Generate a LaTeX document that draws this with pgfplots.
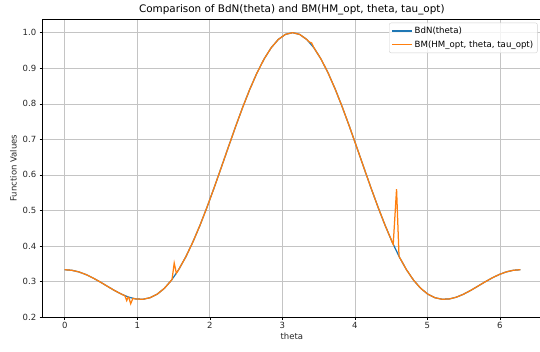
\documentclass[border=0pt]{standalone}
\usepackage{pgfplots}
\pgfplotsset{compat=1.18}
\usepackage{fontspec}
\setmainfont{DejaVu Sans}
\definecolor{mplblue}{HTML}{1F77B4}
\definecolor{mplorange}{HTML}{FF7F0E}
\definecolor{gridgray}{HTML}{C4C4C4}
\begin{document}
\begin{tikzpicture}
\begin{axis}[
 at={(0,0)}, anchor=south west,
 scale only axis, width=499pt, height=298.3pt,
 xmin=-0.309, xmax=6.572, ymin=0.1995, ymax=1.0385,
 xtick={0,1,2,3,4,5,6},
 ytick={0.2,0.3,0.4,0.5,0.6,0.7,0.8,0.9,1.0},
 yticklabel style={/pgf/number format/.cd, fixed, fixed zerofill, precision=1},
 /pgf/number format/assume math mode=true,
 grid=major, grid style={gridgray, line width=0.5pt},
 tick align=outside, tick pos=left, major tick length=2.6pt,
 tick style={black, line width=0.45pt},
 axis line style={line width=0.5pt},
 ticklabel style={font=\fontsize{8.5}{10}\selectfont, color=black!85},
 xticklabel style={yshift=1pt},
 xlabel={theta}, ylabel={Function Values},
 label style={font=\fontsize{8.5}{10}\selectfont, color=black!85},
 xlabel style={yshift=3pt},
 ylabel style={yshift=-1pt},
 title={Comparison of BdN(theta) and BM(HM\_opt, theta, tau\_opt)},
 title style={font=\fontsize{10.4}{12}\selectfont, yshift=-5pt},
 legend cell align=left,
 legend style={at={(1,1)}, anchor=north east, xshift=-3.7pt, yshift=-3.7pt,
   draw=black!18, rounded corners=2pt, fill=white, fill opacity=0.8, text opacity=1,
   font=\fontsize{8.6}{10}\selectfont, inner sep=2.2pt, row sep=1.5pt},
 legend image code/.code={\draw[#1, line width=1.3pt] (0pt,0pt) -- (20pt,0pt);},
]
\addplot[mplblue, line width=1.25pt] coordinates {
(0,0.333333)
(0.098175,0.331736)
(0.196350,0.327052)
(0.294524,0.319598)
(0.392699,0.309891)
(0.490874,0.298621)
(0.589049,0.286624)
(0.687223,0.274845)
(0.785398,0.264298)
(0.883573,0.256021)
(0.981748,0.251029)
(1.079922,0.250273)
(1.178097,0.254588)
(1.276272,0.264660)
(1.374447,0.280990)
(1.472622,0.303863)
(1.570796,0.333333)
(1.668971,0.369208)
(1.767146,0.411050)
(1.865321,0.458183)
(1.963495,0.509710)
(2.061670,0.564537)
(2.159845,0.621409)
(2.258020,0.678949)
(2.356194,0.735702)
(2.454369,0.790185)
(2.552544,0.840937)
(2.650719,0.886569)
(2.748894,0.925811)
(2.847068,0.957558)
(2.945243,0.980908)
(3.043418,0.995193)
(3.141593,1.000000)
(3.239767,0.995193)
(3.337942,0.980908)
(3.436117,0.957558)
(3.534292,0.925811)
(3.632466,0.886569)
(3.730641,0.840937)
(3.828816,0.790185)
(3.926991,0.735702)
(4.025166,0.678949)
(4.123340,0.621409)
(4.221515,0.564537)
(4.319690,0.509710)
(4.417865,0.458183)
(4.516039,0.411050)
(4.614214,0.369208)
(4.712389,0.333333)
(4.810564,0.303863)
(4.908739,0.280990)
(5.006913,0.264660)
(5.105088,0.254588)
(5.203263,0.250273)
(5.301438,0.251029)
(5.399612,0.256021)
(5.497787,0.264298)
(5.595962,0.274845)
(5.694137,0.286624)
(5.792311,0.298621)
(5.890486,0.309891)
(5.988661,0.319598)
(6.086836,0.327052)
(6.185010,0.331736)
(6.283185,0.333333)
};
\addlegendentry{BdN(theta)}
\addplot[mplorange, line width=1.25pt] coordinates {
(0,0.333333)
(0.098175,0.331736)
(0.196350,0.327052)
(0.294524,0.319598)
(0.392699,0.309891)
(0.490874,0.298621)
(0.589049,0.286624)
(0.687223,0.274845)
(0.785398,0.264298)
(0.83,0.2602)
(0.855,0.2465)
(0.875,0.2566)
(0.883573,0.256021)
(0.91,0.2375)
(0.94,0.2527)
(0.981748,0.251029)
(1.079922,0.250273)
(1.178097,0.254588)
(1.276272,0.264660)
(1.374447,0.280990)
(1.472622,0.303863)
(1.48,0.3058)
(1.51,0.352)
(1.54,0.3234)
(1.570796,0.333333)
(1.668971,0.369208)
(1.767146,0.411050)
(1.865321,0.458183)
(1.963495,0.509710)
(2.061670,0.564537)
(2.159845,0.621409)
(2.258020,0.678949)
(2.356194,0.735702)
(2.454369,0.790185)
(2.552544,0.840937)
(2.650719,0.886569)
(2.748894,0.925811)
(2.847068,0.957558)
(2.945243,0.980908)
(3.043418,0.995193)
(3.141593,1.000000)
(3.239767,0.995193)
(3.337942,0.980908)
(3.37,0.9742)
(3.405,0.9712)
(3.436117,0.957558)
(3.534292,0.925811)
(3.632466,0.886569)
(3.730641,0.840937)
(3.828816,0.790185)
(3.926991,0.735702)
(4.025166,0.678949)
(4.123340,0.621409)
(4.221515,0.564537)
(4.319690,0.509710)
(4.417865,0.458183)
(4.516039,0.411050)
(4.53,0.4048)
(4.576,0.56)
(4.61,0.3709)
(4.614214,0.369208)
(4.712389,0.333333)
(4.810564,0.303863)
(4.908739,0.280990)
(5.006913,0.264660)
(5.105088,0.254588)
(5.203263,0.250273)
(5.301438,0.251029)
(5.399612,0.256021)
(5.497787,0.264298)
(5.595962,0.274845)
(5.694137,0.286624)
(5.792311,0.298621)
(5.890486,0.309891)
(5.988661,0.319598)
(6.086836,0.327052)
(6.185010,0.331736)
(6.283185,0.333333)
};
\addlegendentry{BM(HM\_opt, theta, tau\_opt)}
\end{axis}
\pgfresetboundingbox
\useasboundingbox (-42.3pt,-34.7pt) rectangle (497.7pt,317.3pt);
\end{tikzpicture}
\end{document}
